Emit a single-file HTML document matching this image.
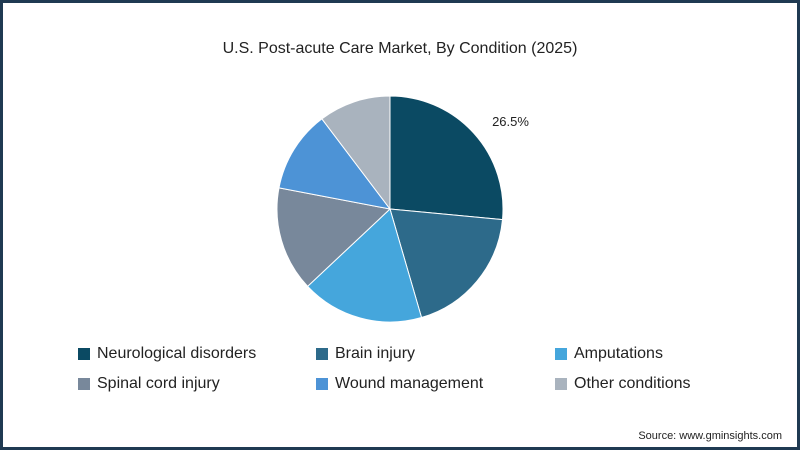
<!DOCTYPE html>
<html><head><meta charset="utf-8"><style>
body{margin:0;width:800px;height:450px;overflow:hidden;background:#fff;font-family:"Liberation Sans",sans-serif}
#frame{position:absolute;left:0;top:0;width:794px;height:444px;border:3px solid #1f3a52;background:#fff}
.t{position:absolute;color:#222}
.lg{position:absolute;font-size:16px;color:#222;display:flex;align-items:center;height:20px}
.sw{width:12px;height:12px;margin-right:7px}
</style></head><body>
<div id="frame"></div>
<div class="t" style="left:0;width:800px;text-align:center;top:40px;font-size:16px">U.S. Post-acute Care Market, By Condition (2025)</div>
<svg id="pie" width="800" height="450" style="position:absolute;left:0;top:0"></svg>
<div id="legend"></div>
<div class="t" style="right:18px;top:430px;font-size:11px">Source: www.gminsights.com</div>
<script>
const categories=["Neurological disorders","Brain injury","Amputations","Spinal cord injury","Wound management","Other conditions"];
const values=[26.5,19,17.5,15,11.7,10.3];
const colors=["#0b4a63","#2d6a8a","#45a6dc","#78889b","#4d93d6","#a9b3be"];
const svg=document.getElementById('pie');const ns="http://www.w3.org/2000/svg";
const cx=390,cy=209,r=113;const total=values.reduce((a,b)=>a+b,0);
let a0=0;
function pt(a){return [cx+r*Math.sin(a),cy-r*Math.cos(a)];}
values.forEach((v,i)=>{const a1=a0+v/total*2*Math.PI;const p0=pt(a0),p1=pt(a1);
const p=document.createElementNS(ns,'path');
p.setAttribute('d',`M${cx},${cy}L${p0[0]},${p0[1]}A${r},${r} 0 ${a1-a0>Math.PI?1:0} 1 ${p1[0]},${p1[1]}Z`);
p.setAttribute('fill',colors[i]);p.setAttribute('stroke','#fff');p.setAttribute('stroke-width','1');


svg.appendChild(p);a0=a1;});
const lab=document.createElementNS(ns,'text');
const la=values[0]/total*Math.PI;
lab.setAttribute('x',cx+(r+25)*Math.sin(la));lab.setAttribute('y',cy-(r+10)*Math.cos(la));
lab.setAttribute('font-size','13');lab.setAttribute('fill','#222');lab.setAttribute('font-family','Liberation Sans, sans-serif');
lab.textContent=values[0]+'%';


svg.appendChild(lab);
const lg=document.getElementById('legend');
const xs=[78,316,555],ys=[344,374];
categories.forEach((c,i)=>{const d=document.createElement('div');d.className='lg';
d.style.left=xs[i%3]+'px';d.style.top=ys[Math.floor(i/3)]+'px';
d.innerHTML=`<div class="sw" style="background:${colors[i]}"></div>${c}`;


lg.appendChild(d);});
</script>
</body></html>
